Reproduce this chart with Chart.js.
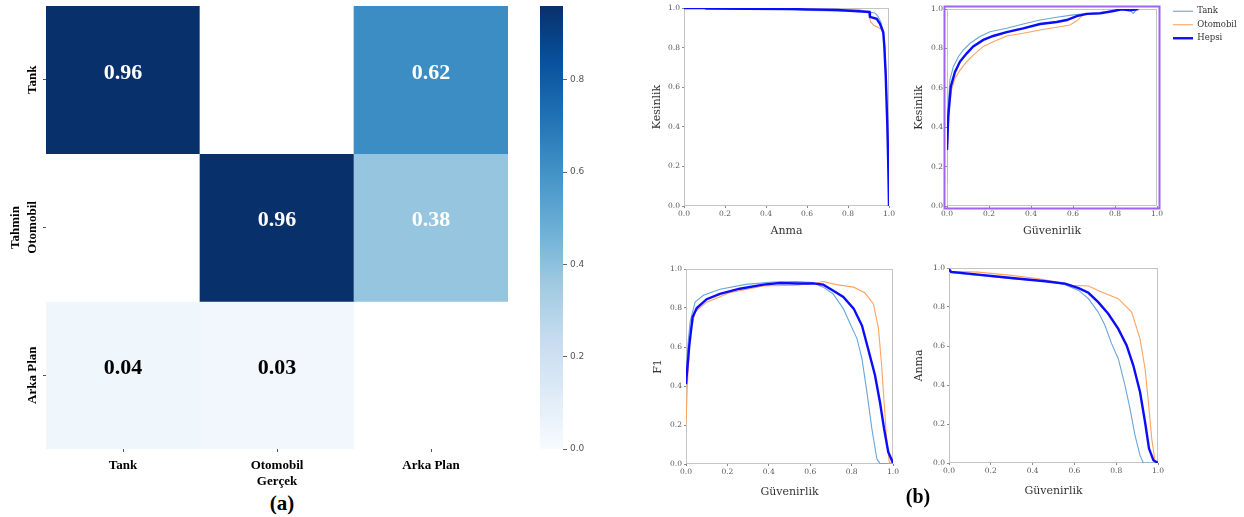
<!DOCTYPE html>
<html>
<head>
<meta charset="utf-8">
<script src="https://cdn.jsdelivr.net/npm/chart.js@4.4.1/dist/chart.umd.min.js"></script>
<style>
html,body{margin:0;padding:0;background:#fff;}
body{width:1244px;height:517px;position:relative;overflow:hidden;}
canvas{position:absolute;}
.lab{position:absolute;font-family:"Liberation Serif";font-weight:bold;color:#000;transform:translate(-50%,-50%);white-space:nowrap;}
</style>
</head>
<body>
<canvas id="cm" width="520" height="489" style="left:0px;top:0px"></canvas>
<canvas id="cb" width="60" height="470" style="left:540px;top:-4px"></canvas>
<canvas id="c1" width="248" height="238" style="left:651px;top:0px"></canvas>
<canvas id="c2" width="331" height="237" style="left:913px;top:1px"></canvas>
<canvas id="c3" width="251" height="238" style="left:652px;top:261px"></canvas>
<canvas id="c4" width="255" height="238" style="left:913px;top:260px"></canvas>
<div class="lab" style="left:282px;top:503px;font-size:21px">(a)</div>
<div class="lab" style="left:918px;top:496px;font-size:20px">(b)</div>
<script>
// ---------- Confusion matrix (rows: Tahmin, cols: Gerçek) ----------
const cmLabels = ['Tank', 'Otomobil', 'Arka Plan'];
const cmRowTank = [0.96, 0.00, 0.62];
const cmRowOtomobil = [0.00, 0.96, 0.38];
const cmRowArkaPlan = [0.04, 0.03, 0.00];
const cbTickStep = 0.2;

// ---------- Kesinlik vs Anma ----------
const prTankX = [0, 0.20, 0.50, 0.60, 0.75, 0.85, 0.90, 0.93, 0.945, 0.96, 0.972, 0.978, 0.985, 0.992, 0.997, 1.0];
const prTankY = [1.0, 1.0, 0.995, 0.988, 0.985, 0.985, 0.98, 0.975, 0.96, 0.93, 0.88, 0.81, 0.66, 0.40, 0.18, 0.0];
const prOtoX = [0, 0.30, 0.60, 0.80, 0.84, 0.90, 0.91, 0.93, 0.95, 0.965, 0.975, 0.98, 0.986, 0.992, 0.997, 1.0];
const prOtoY = [1.0, 1.0, 0.995, 0.99, 0.995, 0.98, 0.93, 0.91, 0.90, 0.89, 0.86, 0.80, 0.66, 0.40, 0.18, 0.0];
const prAllX = [0, 0.10, 0.11, 0.30, 0.50, 0.60, 0.75, 0.83, 0.905, 0.907, 0.94, 0.956, 0.972, 0.977, 0.984, 0.992, 0.997, 1.0];
const prAllY = [1.0, 1.0, 0.997, 0.996, 0.995, 0.993, 0.99, 0.985, 0.98, 0.955, 0.945, 0.92, 0.877, 0.81, 0.66, 0.40, 0.18, 0.0];

// ---------- Kesinlik vs Güvenirlik ----------
const pcTankX = [0, 0.014, 0.03, 0.054, 0.078, 0.11, 0.157, 0.205, 0.284, 0.363, 0.443, 0.522, 0.602, 0.681, 0.792, 0.832, 0.871, 0.887, 0.903, 0.919];
const pcTankY = [0.42, 0.64, 0.707, 0.758, 0.792, 0.826, 0.86, 0.885, 0.902, 0.924, 0.944, 0.958, 0.97, 0.978, 0.99, 0.998, 0.995, 0.978, 0.998, 1.0];
const pcOtoX = [0, 0.002, 0.01, 0.022, 0.038, 0.062, 0.094, 0.125, 0.173, 0.22, 0.284, 0.363, 0.443, 0.522, 0.586, 0.618, 0.649, 0.729, 0.792, 0.832, 0.919];
const pcOtoY = [0.123, 0.284, 0.487, 0.589, 0.648, 0.69, 0.733, 0.766, 0.81, 0.834, 0.863, 0.877, 0.893, 0.907, 0.919, 0.94, 0.97, 0.978, 0.99, 0.998, 1.0];
const pcAllX = [0, 0.006, 0.018, 0.038, 0.062, 0.094, 0.125, 0.173, 0.22, 0.284, 0.363, 0.443, 0.522, 0.57, 0.618, 0.665, 0.729, 0.792, 0.832, 0.871, 0.911];
const pcAllY = [0.284, 0.453, 0.606, 0.68, 0.733, 0.775, 0.81, 0.843, 0.863, 0.883, 0.902, 0.924, 0.934, 0.944, 0.964, 0.975, 0.978, 0.99, 0.998, 0.993, 1.0];

// ---------- F1 vs Güvenirlik ----------
const f1TankX = [0, 0.01, 0.02, 0.044, 0.084, 0.164, 0.29, 0.42, 0.534, 0.615, 0.663, 0.71, 0.76, 0.80, 0.826, 0.85, 0.874, 0.898, 0.922, 0.937, 1.0];
const f1TankY = [0.45, 0.62, 0.73, 0.83, 0.865, 0.896, 0.921, 0.933, 0.936, 0.93, 0.907, 0.873, 0.797, 0.703, 0.643, 0.54, 0.369, 0.18, 0.027, 0.003, 0.0];
const f1OtoX = [0, 0.006, 0.02, 0.044, 0.10, 0.21, 0.374, 0.534, 0.63, 0.663, 0.727, 0.81, 0.864, 0.905, 0.93, 0.945, 0.957, 0.969, 0.982, 1.0];
const f1OtoY = [0.207, 0.39, 0.66, 0.78, 0.83, 0.878, 0.913, 0.917, 0.928, 0.936, 0.92, 0.907, 0.878, 0.822, 0.694, 0.506, 0.317, 0.13, 0.01, 0.0];
const f1AllX = [0, 0.016, 0.032, 0.052, 0.10, 0.164, 0.26, 0.374, 0.454, 0.534, 0.615, 0.663, 0.71, 0.76, 0.81, 0.85, 0.88, 0.913, 0.937, 0.957, 0.977, 1.0];
const f1AllY = [0.41, 0.61, 0.754, 0.80, 0.845, 0.872, 0.899, 0.92, 0.928, 0.926, 0.926, 0.92, 0.89, 0.857, 0.797, 0.71, 0.59, 0.455, 0.317, 0.18, 0.062, 0.005];

// ---------- Anma vs Güvenirlik ----------
const rcTankX = [0, 0.01, 0.14, 0.30, 0.46, 0.555, 0.62, 0.667, 0.714, 0.746, 0.778, 0.81, 0.842, 0.866, 0.89, 0.914, 0.93, 1.0];
const rcTankY = [0.993, 0.976, 0.962, 0.945, 0.932, 0.914, 0.885, 0.843, 0.774, 0.706, 0.612, 0.535, 0.398, 0.279, 0.142, 0.039, 0.0, 0.0];
const rcOtoX = [0, 0.015, 0.14, 0.30, 0.43, 0.555, 0.59, 0.667, 0.73, 0.81, 0.874, 0.914, 0.938, 0.954, 0.97, 0.986, 1.0];
const rcOtoY = [0.997, 0.983, 0.979, 0.962, 0.945, 0.92, 0.911, 0.908, 0.877, 0.843, 0.774, 0.637, 0.484, 0.313, 0.125, 0.006, 0.0];
const rcAllX = [0, 0.0096, 0.14, 0.30, 0.46, 0.555, 0.62, 0.667, 0.714, 0.762, 0.81, 0.85, 0.882, 0.914, 0.938, 0.957, 0.978, 1.0];
const rcAllY = [0.993, 0.98, 0.966, 0.949, 0.932, 0.92, 0.897, 0.873, 0.825, 0.765, 0.688, 0.603, 0.5, 0.364, 0.21, 0.074, 0.014, 0.0];

const seriesNames = ['Tank', 'Otomobil', 'Hepsi'];

// ---------- styles ----------
const bluesStops = ['#f7fbff','#deebf7','#c6dbef','#9ecae1','#6baed6','#4292c6','#2171b5','#08519c','#08306b'];
const tankColor = '#6aa6d8';
const otoColor = '#ffa45e';
const allColor = '#0b0bff';

const cmMatrix = [cmRowTank, cmRowOtomobil, cmRowArkaPlan];
const vmax = Math.max(...cmMatrix.flat());

function hexToRgb(h){ return [parseInt(h.slice(1,3),16), parseInt(h.slice(3,5),16), parseInt(h.slice(5,7),16)]; }
function blues(t){
  t = Math.max(0, Math.min(1, t));
  const n = bluesStops.length - 1;
  const p = t * n; const i = Math.min(Math.floor(p), n - 1); const f = p - i;
  const a = hexToRgb(bluesStops[i]), b = hexToRgb(bluesStops[i+1]);
  const c = a.map((v,k)=>Math.round(v + (b[k]-v)*f));
  return 'rgb(' + c.join(',') + ')';
}

// ---------- heatmap ----------
const cellText = {
  id: 'cellText',
  afterDatasetsDraw(chart) {
    const c = chart.ctx;
    c.save();
    c.font = 'bold 22px "Liberation Serif"';
    c.textAlign = 'center';
    c.textBaseline = 'middle';
    cmMatrix.forEach((row, i) => {
      const meta = chart.getDatasetMeta(i);
      row.forEach((v, j) => {
        if (v <= 0) return;
        const p = meta.data[j].getProps(['x', 'y', 'base'], true);
        c.fillStyle = v > 0.3 ? '#ffffff' : '#000000';
        c.fillText(v.toFixed(2), p.x, (p.y + p.base) / 2 - 7);
      });
    });
    c.restore();
  }
};

const hmFont = {family: '"Liberation Serif"', size: 13, weight: 'bold'};
new Chart(document.getElementById('cm'), {
  type: 'bar',
  data: {
    labels: cmLabels,
    datasets: cmMatrix.map((row, r) => ({
      label: cmLabels[r],
      data: row.map(() => [r, r + 1]),
      backgroundColor: row.map(v => v > 0 ? blues(v / vmax) : '#ffffff'),
      borderWidth: 0,
      borderSkipped: false,
      grouped: false,
      barPercentage: 1,
      categoryPercentage: 1
    }))
  },
  options: {
    responsive: false, animation: false,
    layout: {padding: {left: 0, top: 6, right: 12, bottom: 0}},
    plugins: {legend: {display: false}, tooltip: {enabled: false}},
    scales: {
      x: {
        type: 'category', offset: true,
        grid: {display: true, drawOnChartArea: false, drawTicks: true, tickLength: 3, color: '#555', offset: false},
        border: {display: false},
        ticks: {font: hmFont, color: '#000', padding: 6, maxRotation: 0},
        title: {display: true, text: 'Gerçek', font: hmFont, color: '#000', padding: {top: 0, bottom: 0}},
        afterFit: s => { s.height = 40; }
      },
      y: {
        type: 'linear', min: 0, max: 3, reverse: true,
        afterBuildTicks: s => { s.ticks = cmLabels.map((_, i) => ({value: i + 0.5})); },
        grid: {display: true, drawOnChartArea: false, drawTicks: true, tickLength: 3, color: '#555'},
        border: {display: false},
        ticks: {font: hmFont, color: '#000', minRotation: 90, maxRotation: 90, crossAlign: 'center', padding: -18,
                callback: (v, i) => cmLabels[i]},
        title: {display: true, text: 'Tahmin', font: hmFont, color: '#000', padding: {top: 8, bottom: 0}},
        afterFit: s => { s.width = 46; }
      }
    }
  },
  plugins: [cellText]
});

// ---------- colorbar ----------
new Chart(document.getElementById('cb'), {
  type: 'bar',
  data: {
    labels: ['cb'],
    datasets: [{
      data: [[0, vmax]],
      backgroundColor: (ctx) => {
        const ch = ctx.chart;
        if (!ch.chartArea) return bluesStops[4];
        const ys = ch.scales.y;
        const g = ch.ctx.createLinearGradient(0, ys.getPixelForValue(0), 0, ys.getPixelForValue(vmax));
        bluesStops.forEach((col, i) => g.addColorStop(i / (bluesStops.length - 1), col));
        return g;
      },
      borderWidth: 0, borderSkipped: false,
      barPercentage: 1, categoryPercentage: 1
    }]
  },
  options: {
    responsive: false, animation: false,
    layout: {padding: {left: 0, top: 10, right: 0, bottom: 17}},
    plugins: {legend: {display: false}, tooltip: {enabled: false}},
    scales: {
      x: {display: false},
      y: {
        position: 'right', min: 0, max: vmax,
        grid: {display: true, drawOnChartArea: false, drawTicks: true, tickLength: 4, color: '#666'},
        border: {display: false},
        ticks: {stepSize: cbTickStep, includeBounds: false, padding: 3, color: '#555',
                font: {family: '"DejaVu Sans"', size: 9}, callback: v => Number(v).toFixed(1)},
        afterFit: s => { s.width = 37; }
      }
    }
  }
});

// ---------- line charts ----------
const framePlugin = {
  id: 'frame',
  beforeDatasetsDraw(chart, args, opts) {
    const a = chart.chartArea, c = chart.ctx;
    c.save();
    c.strokeStyle = opts.color || '#c4c4c4';
    c.lineWidth = 1;
    c.strokeRect(Math.round(a.left) + 0.5, Math.round(a.top) + 0.5, Math.round(a.right - a.left) - 1, Math.round(a.bottom - a.top) - 1);
    if (opts.outer) {
      c.strokeStyle = opts.outer;
      c.lineWidth = 2;
      c.strokeRect(a.left - 2.5, a.top - 2.5, a.right - a.left + 5, a.bottom - a.top + 5);
    }
    c.restore();
  }
};
const legendShift = {
  id: 'legendShift',
  afterLayout(chart, args, opts) {
    const lg = chart.legend;
    if (!lg || !opts) return;
    lg.left += opts.dx || 0; lg.right += opts.dx || 0;
    lg.top += opts.dy || 0; lg.bottom += opts.dy || 0;
  }
};

function pts(xs, ys) { return xs.map((x, i) => ({x: x, y: ys[i]})); }
const tickFont = {family: '"DejaVu Serif"', size: 7.5};
const titleFont = {family: '"DejaVu Serif"', size: 11};

function lineChart(id, sets, yTitle, xTitle, yW, xH, extra) {
  extra = extra || {};
  const ds = [
    {label: seriesNames[0], data: pts(sets[0][0], sets[0][1]), borderColor: tankColor, backgroundColor: tankColor, borderWidth: 1.1, order: 2},
    {label: seriesNames[1], data: pts(sets[1][0], sets[1][1]), borderColor: otoColor, backgroundColor: otoColor, borderWidth: 1.1, order: 1},
    {label: seriesNames[2], data: pts(sets[2][0], sets[2][1]), borderColor: allColor, backgroundColor: allColor, borderWidth: 2.4, order: 0}
  ].map(d => Object.assign(d, {showLine: true, pointRadius: 0, tension: 0, fill: false}));
  const axis = (title, isX, size) => ({
    type: 'linear', min: 0, max: 1,
    grid: {display: true, drawOnChartArea: false, drawTicks: true, tickLength: 2, color: '#888'},
    border: {display: false},
    ticks: {stepSize: 0.2, padding: 2, color: '#555', font: tickFont, maxRotation: 0, callback: v => Number(v).toFixed(1)},
    title: {display: true, text: title, color: '#333', font: titleFont, padding: 0},
    afterFit: isX ? (s => { s.height = size; }) : (s => { s.width = size; })
  });
  return new Chart(document.getElementById(id), {
    type: 'scatter',
    data: {datasets: ds},
    options: {
      responsive: false, animation: false,
      layout: {padding: {left: 0, top: 8, right: extra.padRight || 10, bottom: 0}},
      plugins: {
        legend: extra.legend || {display: false},
        tooltip: {enabled: false},
        frame: {color: '#c4c4c4', outer: extra.outer},
        legendShift: extra.shift
      },
      scales: {x: axis(xTitle, true, xH), y: axis(yTitle, false, yW)}
    },
    plugins: [framePlugin, legendShift]
  });
}

lineChart('c1', [[prTankX, prTankY], [prOtoX, prOtoY], [prAllX, prAllY]], 'Kesinlik', 'Anma', 33, 32);
lineChart('c2', [[pcTankX, pcTankY], [pcOtoX, pcOtoY], [pcAllX, pcAllY]], 'Kesinlik', 'Güvenirlik', 34, 32, {
  outer: '#a162f0',
  padRight: 17,
  legend: {
    display: true, position: 'right', align: 'start', maxWidth: 70,
    labels: {usePointStyle: true, pointStyle: 'line', pointStyleWidth: 20, padding: 5, color: '#333',
             font: {family: '"DejaVu Serif"', size: 8.5},
             sort: (a, b) => a.datasetIndex - b.datasetIndex}
  },
  shift: {dx: 11, dy: -7}
});
lineChart('c3', [[f1TankX, f1TankY], [f1OtoX, f1OtoY], [f1AllX, f1AllY]], 'F1', 'Güvenirlik', 34, 35);
lineChart('c4', [[rcTankX, rcTankY], [rcOtoX, rcOtoY], [rcAllX, rcAllY]], 'Anma', 'Güvenirlik', 36, 35);
</script>
</body>
</html>
